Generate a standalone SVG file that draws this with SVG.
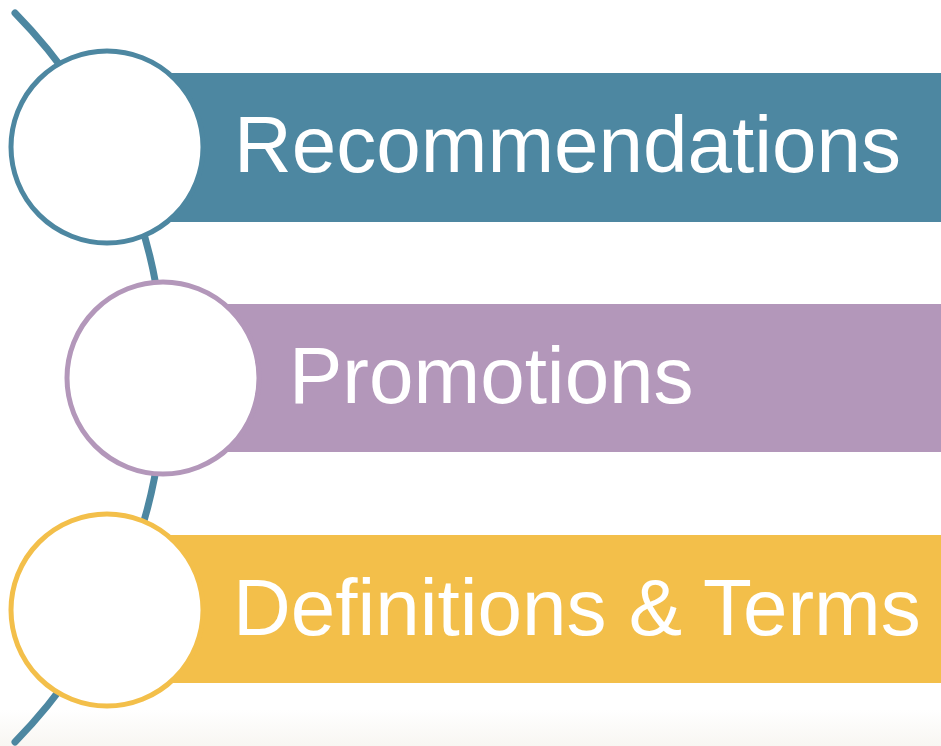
<svg xmlns="http://www.w3.org/2000/svg" width="941" height="746" viewBox="0 0 941 746">
<defs>
<linearGradient id="bg" x1="0" y1="0" x2="0" y2="1">
<stop offset="0" stop-color="#FFFFFF"/>
<stop offset="1" stop-color="#F8F6F2"/>
</linearGradient>
<style>
.lbl{font-family:"Liberation Sans",Arial,sans-serif;font-size:80px;fill:#FFFFFF}
.ring{fill:#FFFFFF;stroke-width:5}
</style>
</defs>
<rect x="0" y="0" width="941" height="746" fill="#FFFFFF"/>
<rect x="0" y="710" width="941" height="36" fill="url(#bg)"/>
<g id="connectors">
<path d="M15,13 A520,520 0 0 1 15,742" fill="none" stroke="#4D87A1" stroke-width="7" stroke-linecap="round"/>
</g>
<g id="node-recommendations">
<rect x="107" y="73" width="834" height="149" fill="#4D87A1"/>
<circle class="ring" cx="107" cy="147" r="96" stroke="#4D87A1"/>
<text class="lbl" x="234" y="172">Recommendations</text>
</g>
<g id="node-promotions">
<rect x="163" y="304" width="778" height="148" fill="#B397BA"/>
<circle class="ring" cx="163" cy="378" r="96" stroke="#B397BA"/>
<text class="lbl" x="289" y="403">Promotions</text>
</g>
<g id="node-definitions">
<rect x="107" y="535" width="834" height="148" fill="#F3BF4A"/>
<circle class="ring" cx="107" cy="610" r="96" stroke="#F3BF4A"/>
<text class="lbl" x="233" y="635">Definitions &amp; Terms</text>
</g>
</svg>
